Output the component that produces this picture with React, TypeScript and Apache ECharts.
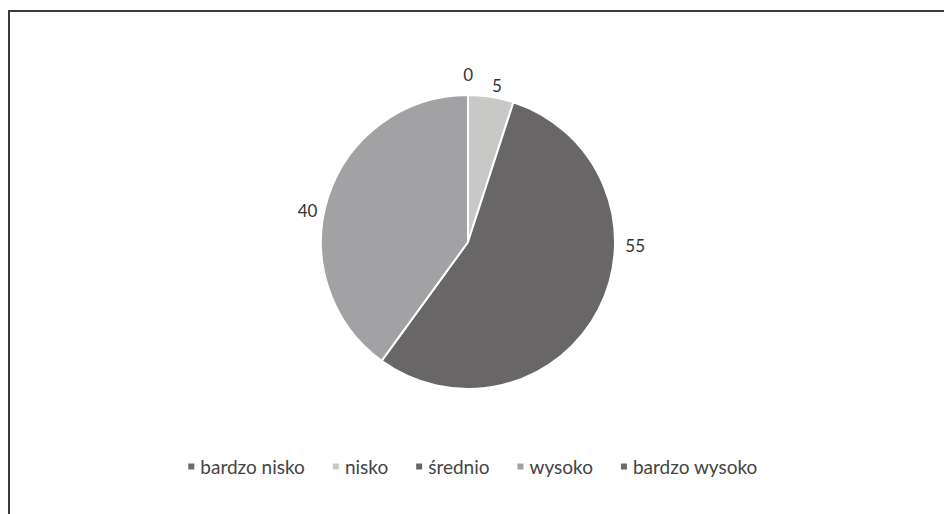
import React, { useEffect, useRef } from "react";
import * as echarts from "echarts";

const categories = ["bardzo nisko", "nisko", "średnio", "wysoko", "bardzo wysoko"];
const values = [0, 5, 55, 40, 0];
const colors = ["#6b6b6b", "#c8c8c6", "#686667", "#a2a2a4", "#6b6b6b"];
const showLabel = [true, true, true, true, false];

// label nudges (Excel-style placement)
const labelNudge: [number, number][] = [
  [14, -15],
  [-9, -5],
  [12, -66],
  [4, 16],
  [0, 0],
];

export default function App() {
  const ref = useRef<HTMLDivElement>(null);
  useEffect(() => {
    document.body.style.overflow = "hidden";
    const chart = echarts.init(ref.current!, undefined, { renderer: "svg" });
    chart.setOption({
      animation: false,
      backgroundColor: "#ffffff",
      textStyle: { fontFamily: "Lato, 'Open Sans', sans-serif" },
      graphic: [
        {
          type: "rect",
          shape: { x: 9, y: 11, width: 1000, height: 1000 },
          style: { fill: "none", stroke: "#3c3c3c", lineWidth: 2 },
          silent: true,
        },
      ],
      legend: {
        data: categories,
        top: 452,
        left: "center",
        icon: "rect",
        itemWidth: 8,
        itemHeight: 8,
        itemGap: 26,
        textStyle: { fontSize: 19, color: "#444444", fontFamily: "Lato, sans-serif" },
      },
      series: [
        {
          type: "pie",
          center: [468, 242],
          radius: 147,
          startAngle: 90,
          clockwise: true,
          stillShowZeroSum: true,
          itemStyle: { borderColor: "#ffffff", borderWidth: 2 },
          label: {
            show: true,
            position: "outside",
            formatter: "{c}",
            fontSize: 17,
            color: "#333333",
            fontFamily: "Lato, sans-serif",
          },
          labelLine: { show: false, length: 6, length2: 4 },
          labelLayout: (p: any) => {
            const n = labelNudge[p.dataIndex] || [0, 0];
            return { dx: n[0], dy: n[1] };
          },
          emphasis: { disabled: true },
          data: categories.map((name, i) => ({
            name,
            value: values[i],
            itemStyle: { color: colors[i] },
            label: { show: showLabel[i] },
          })),
        },
      ],
    });
    return () => chart.dispose();
  }, []);
  return (
    <div
      ref={ref}
      style={{ position: "fixed", left: 0, top: 0, width: 944, height: 514 }}
    />
  );
}
